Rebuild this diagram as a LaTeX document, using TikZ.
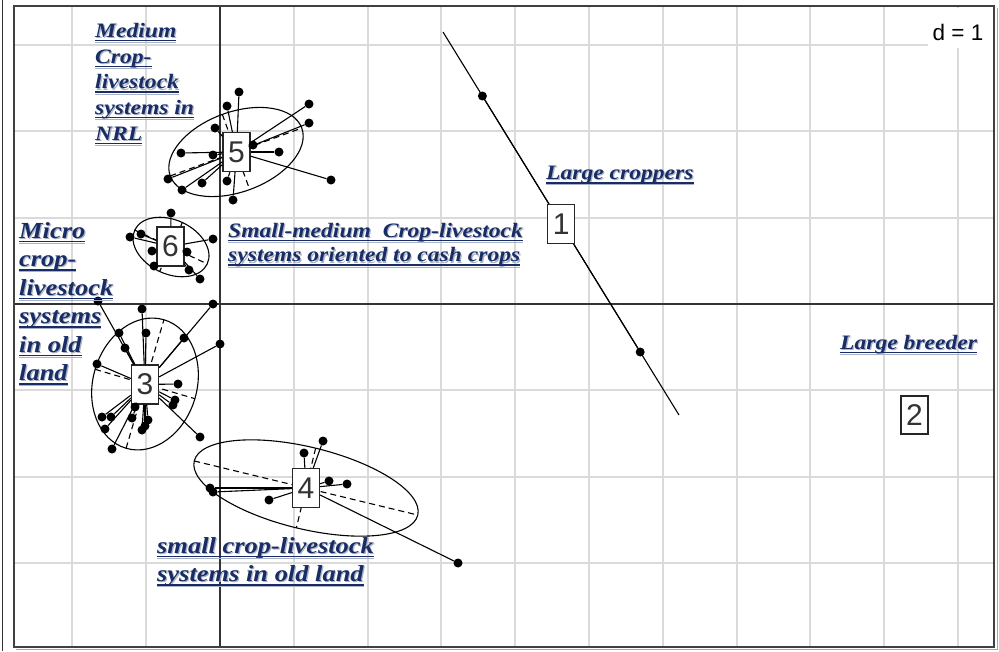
\documentclass[tikz,border=0pt]{standalone}
\usepackage{fontspec}
\usetikzlibrary{positioning}

\newfontfamily\lblfont[FakeStretch=1.15]{Liberation Serif}
\newfontfamily\numfont{Liberation Sans}
\definecolor{lblblue}{RGB}{24,44,102}
\definecolor{lblshade}{RGB}{170,178,196}
\definecolor{gridgray}{RGB}{218,218,218}
\newcommand{\lblul}[1]{\setbox0\hbox{#1}%
	\rlap{\hspace{1.2pt}\raisebox{-1.2pt}{\textcolor{lblshade}{\copy0}}}%
	\rlap{\textcolor{lblshade}{\rule[-5.8pt]{\wd0}{1.1pt}}}%
	\rlap{\rule[-3.9pt]{\wd0}{1.4pt}}\box0}

\begin{document}
\begin{tikzpicture}
	[x=1pt,y=-1pt,every node/.style={inner sep=0pt},
	grp/.style={draw=black!85,line width=1.3pt,fill=white,minimum width=27pt,minimum height=39pt,
		font=\numfont\fontsize{30}{30}\selectfont,text=black!80},
	obs/.style={circle,fill=black,minimum size=9pt},
	spoke/.style={line width=1.1pt},
	ell/.style={line width=1.1pt},
	ellaxis/.style={line width=1.1pt,dash pattern=on 6pt off 4pt},
	lbl/.style={font=\lblfont\bfseries\itshape\fontsize{20.5}{25.7}\selectfont,text=lblblue,align=left,anchor=north west},
	biglbl/.style={lbl,font=\lblfont\bfseries\itshape\fontsize{23}{28.5}\selectfont}]
	\useasboundingbox (0,0) rectangle (999,651);
	
	% grid and axes
	\foreach \k in {-2,...,10}
	\draw[gridgray,line width=2pt] ({220+73.8*\k},6) -- ({220+73.8*\k},647);
	\foreach \k in {-3,...,3}
	\draw[gridgray,line width=2pt] (14,{304+86.3*\k}) -- (994,{304+86.3*\k});
	\draw[black!80,line width=1.4pt] (220,6) -- (220,647);
	\draw[black!80,line width=1.4pt] (14,304) -- (994,304);
	\fill[white] (928,8) rectangle (993,48);
	\node[font=\numfont\fontsize{22.5}{22.5}\selectfont] (dlab) at (958,32) {d = 1};
	
	% frame
	\draw[black!35,line width=1pt] (16,649) -- (997,649) -- (997,8);
	\draw[black!75,line width=2pt] (14,6) rectangle (994,647);
	\draw[black!80,line width=0.8pt] (2,0) -- (2,651);
	
	% ellipses
	\coordinate (e1a) at (443,32);
	\coordinate (e1b) at (679,415);
	\draw[ell] (e1a) -- (e1b);
	\foreach \cx/\cy/\ea/\eb/\rot in {236/152/70/40/20, 171/247/40/27/-25,
		145/384/67/52/73.6, 306/488/115/41/-13.6}
	{
		\begin{scope}[shift={(\cx,\cy)},rotate=\rot]
			\draw[ell] (0,0) ellipse [x radius=\ea,y radius=\eb];
			\draw[ellaxis] (-\ea,0) -- (\ea,0) (0,-\eb) -- (0,\eb);
		\end{scope}
	}
	
	% class boxes
	\node[grp] (g1) at (561.3,224) {1};
	\node[grp,minimum height=38pt] (g2) at (914.5,415) {2};
	\node[grp] (g3) at (145,384.5) {3};
	\node[grp] (g4) at (306,488) {4};
	\node[grp] (g5) at (236.5,152) {5};
	\node[grp] (g6) at (170.5,246.5) {6};
	
	% points and stars
	\foreach \n/\x/\y in {p1a/482.4/96, p1b/640.2/352}
	{\node[obs] (\n) at (\x,\y) {}; \draw[spoke] (\n) -- (g1);}
	\foreach \n/\x/\y in {p5a/239/92, p5b/227/106, p5c/309/104, p5d/309/123, p5e/215/128,
		p5f/181/153, p5g/213/155, p5h/279/152, p5i/331/180, p5j/168/179, p5k/182/190,
		p5l/202/183, p5m/227/181, p5n/233/200, p5o/253/145}
	{\node[obs] (\n) at (\x,\y) {}; \draw[spoke] (\n) -- (g5);}
	\foreach \n/\x/\y in {p6a/171/213, p6b/130/237, p6c/141/234, p6d/213/239, p6e/152/251,
		p6f/187/252, p6g/154/266, p6h/189/270, p6i/200/279}
	{\node[obs] (\n) at (\x,\y) {}; \draw[spoke] (\n) -- (g6);}
	\foreach \n/\x/\y in {p3a/98/301, p3b/142/309, p3c/213/304, p3d/119/333, p3e/146/333,
		p3f/184/338, p3g/125/348, p3h/220/344, p3i/97/364, p3j/178/384, p3k/175/400,
		p3l/173/405, p3m/132/418, p3n/102/417, p3o/111/417, p3p/148/420, p3q/142/430,
		p3r/105/429, p3s/200/437, p3t/112/449, p3u/135/407, p3v/145/426}
	{\node[obs] (\n) at (\x,\y) {}; \draw[spoke] (\n) -- (g3);}
	\foreach \n/\x/\y in {p4a/323/441, p4b/304/453, p4c/329/481, p4d/347/484, p4e/210/488,
		p4f/213/492, p4g/269/500, p4h/458/563}
	{\node[obs] (\n) at (\x,\y) {}; \draw[spoke] (\n) -- (g4);}
	
	% labels
	\node[lbl] (t5) at (95,23) {\lblul{Medium}\\\lblul{Crop-}\\\lblul{livestock}\\\lblul{systems in}\\\lblul{NRL}};
	\node[biglbl] (t3) at (19,222) {\lblul{Micro}\\\lblul{crop-}\\\lblul{livestock}\\\lblul{systems}\\\lblul{in old}\\\lblul{land}};
	\node[lbl,font=\lblfont\bfseries\itshape\fontsize{20.5}{24.5}\selectfont] (t6) at (228,223)
		{\lblul{Small-medium\ \ Crop-livestock}\\\lblul{systems oriented to cash crops}};
	\node[lbl] (t1) at (546,166) {\lblul{Large croppers}};
	\node[lbl] (t2) at (840,335) {\lblul{Large breeder}};
	\node[biglbl] (t4) at (157,537) {\lblul{small crop-livestock}\\\lblul{systems in old land}};
\end{tikzpicture}
\end{document}
